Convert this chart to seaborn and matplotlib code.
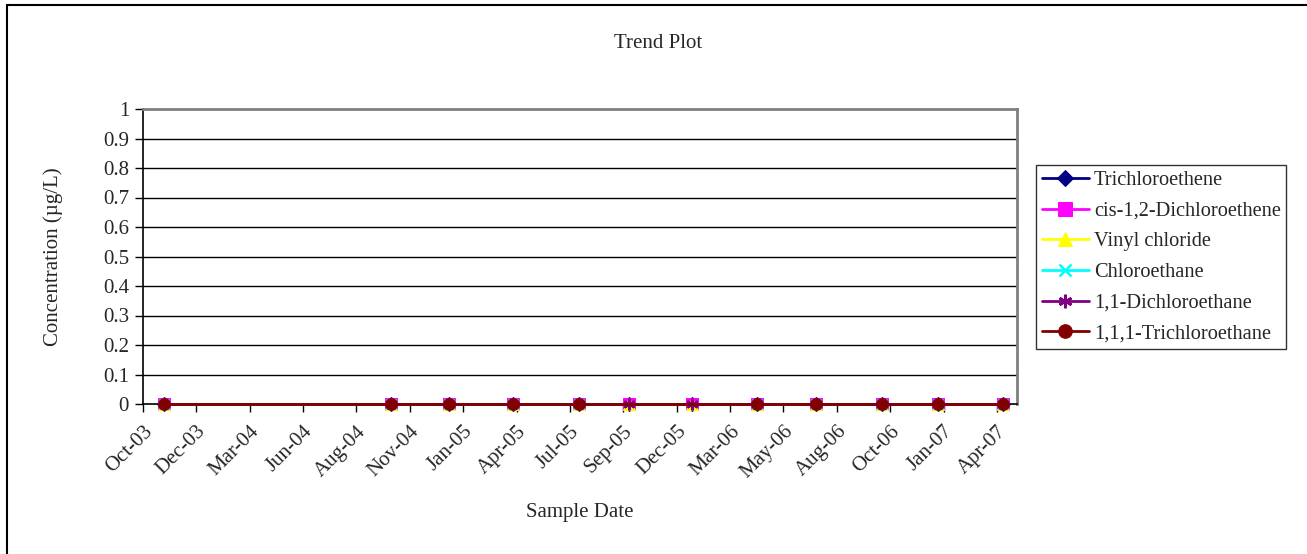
import matplotlib
matplotlib.use("Agg")
import matplotlib.pyplot as plt
import matplotlib.patches as mpatches
import numpy as np
import pandas as pd
import seaborn as sns

# Sample dates and measured concentrations (µg/L)
sample_dates = ["2003-11-05", "2004-10-11", "2005-01-05", "2005-04-12",
                "2005-07-20", "2005-10-03", "2006-01-05", "2006-04-13",
                "2006-07-10", "2006-10-17", "2007-01-09", "2007-04-16"]
trichloroethene = [0, 0, 0, 0, 0, 0, 0, 0, 0, 0, 0, 0]
cis_12_dce = [0, 0, 0, 0, 0, 0, 0, 0, 0, 0, 0, 0]
vinyl_chloride = [0, 0, 0, 0, 0, 0, 0, 0, 0, 0, 0, 0]
chloroethane = [0, 0, 0, 0, 0, np.nan, np.nan, 0, 0, 0, 0, 0]
dca_11 = [0, 0, 0, 0, 0, 0, 0, 0, 0, 0, 0, 0]
tca_111 = [0, 0, 0, 0, 0, np.nan, np.nan, 0, 0, 0, 0, 0]

series_names = ["Trichloroethene", "cis-1,2-Dichloroethene", "Vinyl chloride",
                "Chloroethane", "1,1-Dichloroethane", "1,1,1-Trichloroethane"]

# Date axis ticks and labels
tick_dates = ["2003-10-05", "2003-12-24", "2004-03-13", "2004-06-01",
              "2004-08-20", "2004-11-08", "2005-01-27", "2005-04-17",
              "2005-07-06", "2005-09-24", "2005-12-13", "2006-03-03",
              "2006-05-22", "2006-08-10", "2006-10-29", "2007-01-17",
              "2007-04-07"]
tick_labels = ["Oct-03", "Dec-03", "Mar-04", "Jun-04", "Aug-04", "Nov-04",
               "Jan-05", "Apr-05", "Jul-05", "Sep-05", "Dec-05", "Mar-06",
               "May-06", "Aug-06", "Oct-06", "Jan-07", "Apr-07"]
x_end = "2007-05-07"
y_ticks = [0, 0.1, 0.2, 0.3, 0.4, 0.5, 0.6, 0.7, 0.8, 0.9, 1]
y_tick_labels = ["0", "0.1", "0.2", "0.3", "0.4", "0.5", "0.6", "0.7", "0.8", "0.9", "1"]

sns.set_theme(style="white")
plt.rcParams["font.family"] = ["Liberation Serif", "DejaVu Serif"]
FS = 15
plt.rcParams["font.size"] = FS

W, H = 1307, 554
fig = plt.figure(figsize=(W / 100, H / 100), dpi=100)
fig.patch.set_facecolor("white")

# outer chart border
fig.add_artist(mpatches.Rectangle((7 / W, -0.05), 1.1, 1 - 5 / H + 0.05,
                                  transform=fig.transFigure, fill=False,
                                  edgecolor="black", linewidth=1.5))

left, right, top, bottom = 143, 1017, 109, 404
ax = fig.add_axes([left / W, 1 - bottom / H, (right - left) / W, (bottom - top) / H])
ax.set_facecolor("white")

styles = [
    dict(color="#000080", marker="D", markersize=7),
    dict(color="#FF00FF", marker="s", markersize=8.5),
    dict(color="#FFFF00", marker="^", markersize=8.5),
    dict(color="#00FFFF", marker="x", markersize=7, markeredgewidth=1.8),
    dict(color="#800080", marker=(6, 2, 0), markersize=8.5, markeredgewidth=1.8),
    dict(color="#800000", marker="o", markersize=8.5),
]
values = [trichloroethene, cis_12_dce, vinyl_chloride, chloroethane, dca_11, tca_111]

dates = pd.to_datetime(sample_dates)
handles = []
for name, vals, st in zip(series_names, values, styles):
    df = pd.DataFrame({"date": dates, "value": vals}).dropna()
    mec = st["color"]
    sns.lineplot(data=df, x="date", y="value", ax=ax, estimator=None, sort=False,
                 linewidth=2, markeredgecolor=mec, zorder=3, clip_on=False, **st)
    handles.append(ax.lines[-1])

ax.set_xlim(pd.Timestamp(tick_dates[0]), pd.Timestamp(x_end))
ax.set_ylim(0, 1)
ax.set_xticks(pd.to_datetime(tick_dates))
ax.set_xticklabels(tick_labels, rotation=45, ha="right", rotation_mode="anchor", fontsize=FS)
ax.set_yticks(y_ticks)
ax.set_yticklabels(y_tick_labels, fontsize=FS)
ax.tick_params(axis="both", direction="out", length=6, width=1, color="black",
               bottom=True, left=True, pad=4)
ax.tick_params(axis="x", pad=7)

for y in y_ticks[1:-1]:
    ax.axhline(y, color="black", linewidth=1, zorder=1)

for side in ["left", "bottom"]:
    ax.spines[side].set_color("black")
    ax.spines[side].set_linewidth(1.2)
for side in ["top", "right"]:
    ax.spines[side].set_color("#808080")
    ax.spines[side].set_linewidth(2)
    ax.spines[side].set_visible(True)

ax.set_xlabel("")
ax.set_ylabel("")
fig.text(580 / W, 1 - 512 / H, "Sample Date", ha="center", va="center", fontsize=FS)
fig.text(53 / W, 1 - 257 / H, "Concentration (µg/L)", ha="center", va="center",
         rotation=90, fontsize=FS)
fig.text(658 / W, 1 - 43 / H, "Trend Plot", ha="center", va="center", fontsize=FS)

leg = fig.legend(handles, series_names, loc="upper left",
                 bbox_to_anchor=(1036 / W, 1 - 165 / H), frameon=True,
                 fancybox=False, edgecolor="black", fontsize=14.7,
                 handlelength=2.3, labelspacing=0.56, borderpad=0.28,
                 handletextpad=0.25, borderaxespad=0, markerscale=1.15)
leg.get_frame().set_linewidth(1)

fig.savefig("out.png", dpi=100, facecolor="white")
